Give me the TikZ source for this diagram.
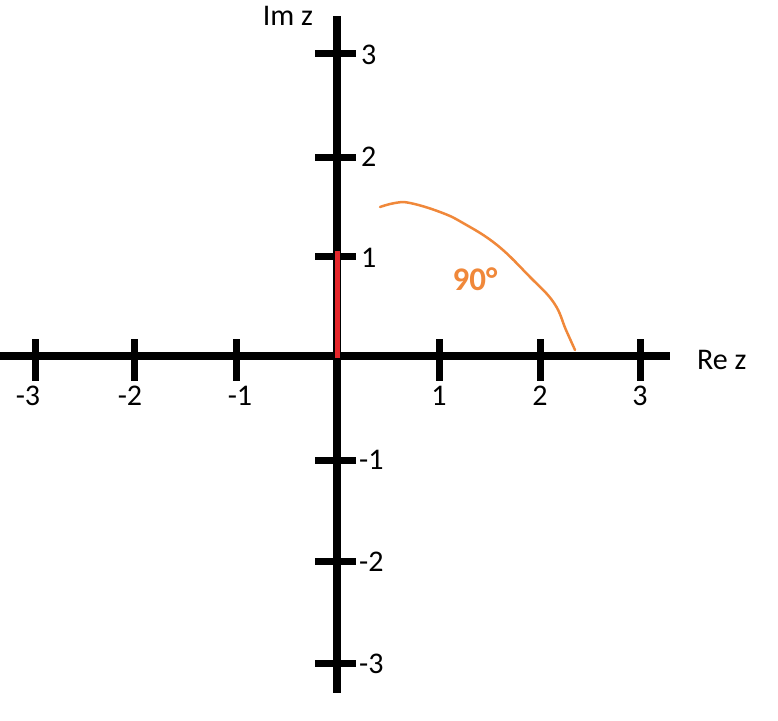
\documentclass[tikz,border=0pt]{standalone}
\usepackage{fontspec}
\setmainfont{Carlito}
\definecolor{axred}{HTML}{E3262B}
\definecolor{axorange}{HTML}{F0883A}
\begin{document}
\begin{tikzpicture}[x=1pt,y=-1pt,
  axis/.style={line width=8pt,black},
  tickmark/.style={line width=7pt,black},
  lbl/.style={inner sep=0pt,font=\fontsize{30}{32}\selectfont},
  anglbl/.style={inner sep=0pt,text=axorange,font=\fontsize{33}{35}\selectfont\bfseries}]
\useasboundingbox (0,0) rectangle (778,720);
% axes
\coordinate (xl) at (0,356);
\coordinate (xr) at (670,356);
\coordinate (yt) at (337,16);
\coordinate (yb) at (337,693);
\draw[axis] (xl) -- (xr);
\draw[axis] (yt) -- (yb);
% ticks on Re axis
\foreach \x in {35,134,236,439,540,640}
  \draw[tickmark] (\x,339) -- (\x,381);
% ticks on Im axis
\foreach \y in {53,157,256,460,561,663}
  \draw[tickmark] (315,\y) -- (356,\y);
% Re labels
\node[lbl] (rm3) at (28,396) {-3};
\node[lbl] (rm2) at (130,396) {-2};
\node[lbl] (rm1) at (240,396) {-1};
\node[lbl] (rp1) at (439,396) {1};
\node[lbl] (rp2) at (540,396) {2};
\node[lbl] (rp3) at (640,396) {3};
% Im labels
\node[lbl,anchor=west] (ip3) at (361,55) {3};
\node[lbl,anchor=west] (ip2) at (361,157) {2};
\node[lbl,anchor=west] (ip1) at (361,258) {1};
\node[lbl,anchor=west] (im1) at (359,460) {-1};
\node[lbl,anchor=west] (im2) at (359,562) {-2};
\node[lbl,anchor=west] (im3) at (359,664) {-3};
% axis names
\node[lbl,anchor=west] (rez) at (697,360) {Re z};
\node[lbl] (imz) at (288,16) {Im z};
% red segment
\coordinate (r0) at (337,358);
\coordinate (r1) at (337,251);
\draw[line width=5pt,axred] (r0) -- (r1);
% orange arc
\draw[line width=2.5pt,axorange,line cap=round] plot[smooth,tension=0.7] coordinates
  {(380,207) (395,203) (410,203) (440,212) (463,223) (497,245) (530,277) (554,303) (566,330) (575,350)};
\node[anglbl] (ang) at (475,279) {90°};
\end{tikzpicture}
\end{document}
